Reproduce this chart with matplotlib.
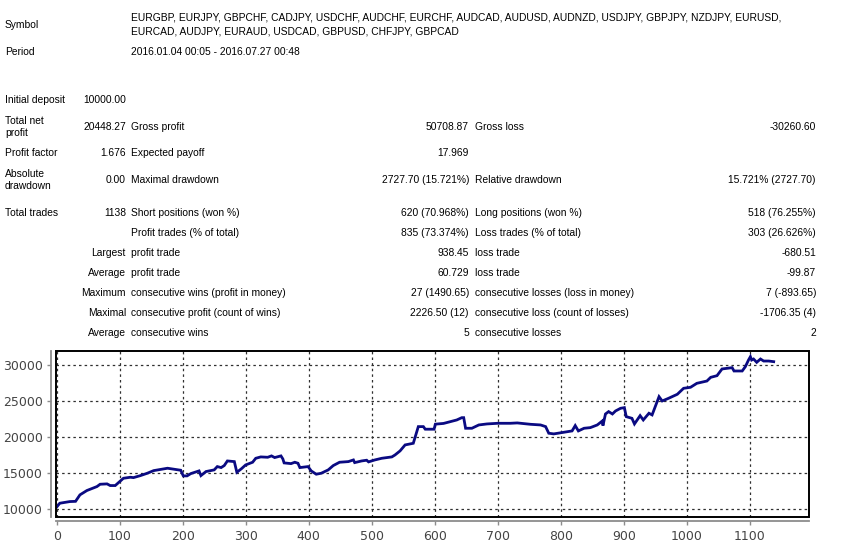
import matplotlib
matplotlib.use("Agg")
import matplotlib.pyplot as plt
from matplotlib.patches import Rectangle

W, H = 842, 554

# ---------------- data ----------------
symbols_line1 = "EURGBP, EURJPY, GBPCHF, CADJPY, USDCHF, AUDCHF, EURCHF, AUDCAD, AUDUSD, AUDNZD, USDJPY, GBPJPY, NZDJPY, EURUSD,"
symbols_line2 = "EURCAD, AUDJPY, EURAUD, USDCAD, GBPUSD, CHFJPY, GBPCAD"
period = "2016.01.04 00:05 - 2016.07.27 00:48"

rows = [
    # (label col0, value col1, label col2, value col3, label col4, value col5)
    ("Initial deposit", "10000.00", "", "", "", ""),
    ("Total net\nprofit", "20448.27", "Gross profit", "50708.87", "Gross loss", "-30260.60"),
    ("Profit factor", "1.676", "Expected payoff", "17.969", "", ""),
    ("Absolute\ndrawdown", "0.00", "Maximal drawdown", "2727.70 (15.721%)", "Relative drawdown", "15.721% (2727.70)"),
    ("Total trades", "1138", "Short positions (won %)", "620 (70.968%)", "Long positions (won %)", "518 (76.255%)"),
    ("", "", "Profit trades (% of total)", "835 (73.374%)", "Loss trades (% of total)", "303 (26.626%)"),
    ("", "Largest", "profit trade", "938.45", "loss trade", "-680.51"),
    ("", "Average", "profit trade", "60.729", "loss trade", "-99.87"),
    ("", "Maximum", "consecutive wins (profit in money)", "27 (1490.65)", "consecutive losses (loss in money)", "7 (-893.65)"),
    ("", "Maximal", "consecutive profit (count of wins)", "2226.50 (12)", "consecutive loss (count of losses)", "-1706.35 (4)"),
    ("", "Average", "consecutive wins", "5", "consecutive losses", "2"),
]
row_y = [100, 127, 153, 180, 213, 233, 253, 273, 293, 313, 333]

trade = [0, 5, 21, 30, 37, 48, 64, 69, 80, 85, 93, 100, 106, 117, 122, 133, 144, 154,
         176, 197, 201, 207, 213, 226, 229, 237, 250, 255, 261, 266, 271, 282, 286, 293,
         300, 311, 316, 324, 335, 341, 346, 356, 359, 361, 372, 378, 383, 386, 399, 404,
         412, 420, 431, 439, 449, 463, 471, 473, 484, 492, 495, 505, 516, 532, 537, 545,
         553, 566, 570, 574, 582, 585, 599, 601, 614, 625, 635, 643, 646, 649, 659, 670,
         683, 700, 720, 731, 752, 768, 776, 781, 789, 805, 818, 823, 828, 837, 847, 858,
         866, 867, 871, 876, 882, 887, 895, 901, 904, 913, 917, 926, 931, 940, 945, 950,
         956, 961, 971, 985, 995, 1006, 1016, 1032, 1038, 1048, 1056, 1072, 1075, 1088,
         1093, 1098, 1101, 1103, 1106, 1111, 1117, 1122, 1130, 1138]
balance = [10300, 10840, 11070, 11100, 12000, 12600, 13150, 13470, 13520, 13290, 13290,
           13840, 14300, 14440, 14390, 14670, 15000, 15360, 15690, 15410, 14630, 14630,
           14950, 15320, 14670, 15230, 15460, 15920, 15780, 16060, 16700, 16610, 15130,
           15600, 16150, 16520, 17070, 17260, 17210, 17400, 17170, 17400, 16980, 16430,
           16330, 16520, 16380, 15780, 15920, 15320, 14860, 15000, 15460, 16060, 16520,
           16610, 16840, 16470, 16700, 16800, 16570, 16840, 17070, 17260, 17530, 18090,
           18920, 19150, 20300, 21460, 21460, 21100, 21100, 21800, 21900, 22150, 22380,
           22700, 22700, 21230, 21230, 21690, 21830, 21920, 21920, 21970, 21780, 21690,
           21460, 20540, 20450, 20670, 20860, 21600, 20860, 21230, 21320, 21690, 22240,
           21600, 23210, 23540, 23210, 23630, 24000, 24090, 22840, 22610, 21830, 22980,
           22380, 23310, 23080, 24230, 25610, 25010, 25380, 25940, 26770, 26910, 27460,
           27780, 28290, 28520, 29450, 29630, 29170, 29170, 29770, 30690, 31150, 30690,
           30830, 30370, 30830, 30550, 30550, 30460]

x_ticks = [0, 100, 200, 300, 400, 500, 600, 700, 800, 900, 1000, 1100]
y_ticks = [10000, 15000, 20000, 25000, 30000]

# ---------------- figure ----------------
fig = plt.figure(figsize=(W / 100, H / 100), dpi=100)
fig.patch.set_facecolor("white")

TXT = dict(family="Liberation Sans", fontsize=7.4, color="black", va="center")


def put(x, y, s, ha="left"):
    fig.text(x / W, 1 - y / H, s, ha=ha, linespacing=1.2, **TXT)


put(5, 25, "Symbol")
put(131, 18, symbols_line1)
put(131, 32, symbols_line2)
put(5, 52, "Period")
put(131, 52, period)

for (c0, c1, c2, c3, c4, c5), y in zip(rows, row_y):
    if c0:
        put(5, y, c0)
    if c1:
        put(126, y, c1, ha="right")
    if c2:
        put(131, y, c2)
    if c3:
        put(469, y, c3, ha="right")
    if c4:
        put(475, y, c4)
    if c5:
        put(816, y, c5, ha="right")

# ---------------- chart ----------------
left, right, top, bottom = 56, 809, 351, 516.5
ax = fig.add_axes([left / W, 1 - bottom / H, (right - left) / W, (bottom - top) / H])
ax.set_xlim(-1, 1194)
ax.set_ylim(9000, 31940)

ax.plot(trade, balance, color="#0a0a82", lw=2.0, solid_joinstyle="miter", zorder=3)

ax.set_xticks(x_ticks)
ax.set_yticks(y_ticks)
ax.set_xticklabels([str(v) for v in x_ticks])
ax.set_yticklabels([str(v) for v in y_ticks])
ax.grid(True, color="#303030", linestyle=(0, (2, 2.5)), linewidth=0.9)
ax.set_axisbelow(True)

for s in ("top", "right"):
    ax.spines[s].set_visible(False)
for s in ("left", "bottom"):
    ax.spines[s].set_position(("outward", 3.5))
    ax.spines[s].set_color("#8c8c8c")
    ax.spines[s].set_linewidth(1.3)

ax.tick_params(axis="both", colors="#8c8c8c", length=3, width=1.0,
               labelsize=9, labelcolor="#444444", pad=3)

ax.add_patch(Rectangle((0, 0), 1, 1, transform=ax.transAxes, fill=False,
                       edgecolor="black", linewidth=1.4, clip_on=False, zorder=5))

fig.savefig("out.png", dpi=100)
